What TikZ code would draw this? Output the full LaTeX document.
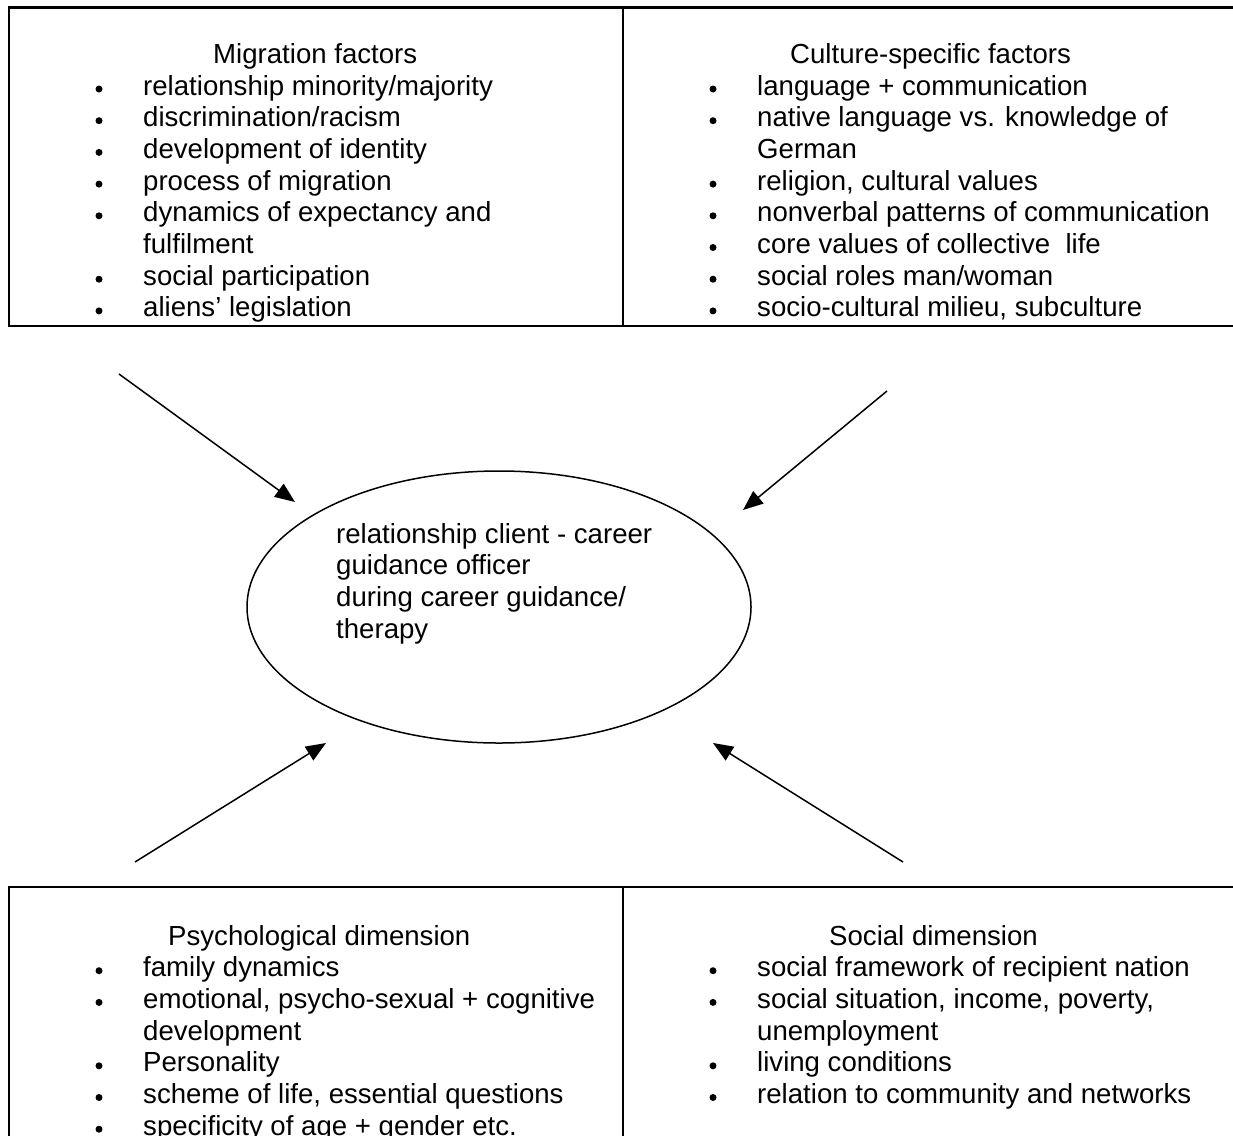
\documentclass[tikz,border=0pt]{standalone}
\usepackage{fontspec}
\setmainfont{Liberation Sans}
\usetikzlibrary{arrows.meta,shapes.geometric}
\newcommand{\bitem}[4]{%
  \node[bdot] (#1b) at ({#2-44},{#3-6}) {};
  \node[txt] (#1) at (#2,#3) {#4};}
\newcommand{\citem}[4]{%
  \node[txt] (#1) at (#2,#3) {#4};}
\begin{document}
\begin{tikzpicture}[x=1pt,y=-1pt,
  txt/.style={anchor=base west, inner sep=0pt, font=\fontsize{27.6}{31.7}\selectfont},
  bdot/.style={circle, fill=black, draw=none, inner sep=0pt, minimum size=7pt},
  frame/.style={line width=2.6pt},
  arr/.style={line width=1.5pt, -{Triangle[length=20pt,width=16pt]}},
  oval/.style={draw, ellipse, line width=1.5pt, minimum width=504pt, minimum height=272pt, inner sep=0pt}
]
\useasboundingbox (0,0) rectangle (1233,1135);

% frames
\draw[frame] (1234,7.5) -- (9,7.5) -- (9,326) -- (1234,326);
\draw[frame] (623,7.5) -- (623,326);
\draw[frame] (1234,887) -- (9,887) -- (9,1140);
\draw[frame] (623,887) -- (623,1140);

% top left
\node[txt] (tlh) at (213,63.3) {Migration factors};
\bitem{tl1}{143}{95}{relationship minority/majority}
\bitem{tl2}{143}{126.7}{discrimination/racism}
\bitem{tl3}{143}{158.4}{development of identity}
\bitem{tl4}{143}{190.1}{process of migration}
\bitem{tl5}{143}{221.8}{dynamics of expectancy and}
\citem{tl6}{143}{253.5}{fulfilment}
\bitem{tl7}{143}{285.2}{social participation}
\bitem{tl8}{143}{316.9}{aliens’ legislation}

% top right
\node[txt] (trh) at (790,63.3) {Culture-specific factors};
\bitem{tr1}{757}{95}{language + communication}
\bitem{tr2}{757}{126.7}{native language vs. knowledge of}
\citem{tr3}{757}{158.4}{German}
\bitem{tr4}{757}{190.1}{religion, cultural values}
\bitem{tr5}{757}{221.8}{nonverbal patterns of communication}
\bitem{tr6}{757}{253.5}{core values of collective\ \ life}
\bitem{tr7}{757}{285.2}{social roles man/woman}
\bitem{tr8}{757}{316.9}{socio-cultural milieu, subculture}

% bottom left
\node[txt] (blh) at (168,945) {Psychological dimension};
\bitem{bl1}{143}{976.7}{family dynamics}
\bitem{bl2}{143}{1008.4}{emotional, psycho-sexual + cognitive}
\citem{bl3}{143}{1040.1}{development}
\bitem{bl4}{143}{1071.8}{Personality}
\bitem{bl5}{143}{1103.5}{scheme of life, essential questions}
\bitem{bl6}{143}{1135.2}{specificity of age + gender etc.}

% bottom right
\node[txt] (brh) at (829,945) {Social dimension};
\bitem{br1}{757}{976.7}{social framework of recipient nation}
\bitem{br2}{757}{1008.4}{social situation, income, poverty,}
\citem{br3}{757}{1040.1}{unemployment}
\bitem{br4}{757}{1071.8}{living conditions}
\bitem{br5}{757}{1103.5}{relation to community and networks}

% centre
\node[oval] (rel) at (499,607) {};
\node[txt, align=left, anchor=north west] (reltext) at (336,523) {%
relationship client - career\\
guidance officer\\
during career guidance/\\
therapy};

% arrows
\coordinate (a1s) at (119,374);
\coordinate (a1e) at (295,502);
\coordinate (a2s) at (887,391);
\coordinate (a2e) at (743,510);
\coordinate (a3s) at (135,862);
\coordinate (a3e) at (326,743);
\coordinate (a4s) at (903,862);
\coordinate (a4e) at (713,743);
\draw[arr] (a1s) -- (a1e);
\draw[arr] (a2s) -- (a2e);
\draw[arr] (a3s) -- (a3e);
\draw[arr] (a4s) -- (a4e);
\end{tikzpicture}
\end{document}
